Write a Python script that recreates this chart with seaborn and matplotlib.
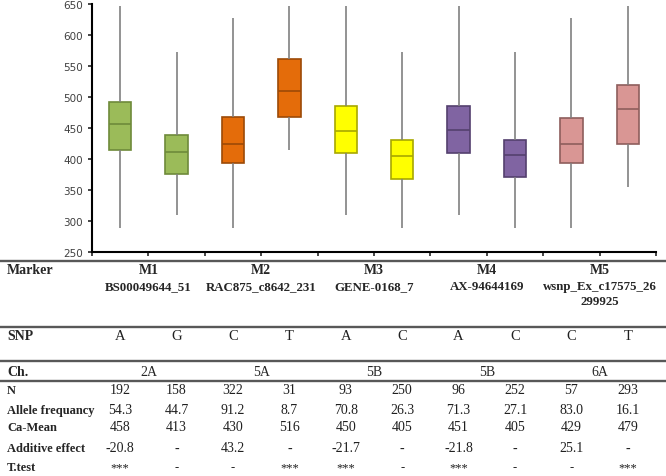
import numpy as np
import pandas as pd
import matplotlib
matplotlib.use('Agg')
import matplotlib.pyplot as plt
import matplotlib.transforms as mtransforms
from matplotlib.lines import Line2D
import seaborn as sns

# Box statistics (one box per allele)
boxes = ['M1_A', 'M1_G', 'M2_C', 'M2_T', 'M3_A', 'M3_C', 'M4_A', 'M4_C', 'M5_C', 'M5_T']
whisker_low = [288, 310, 288, 414, 310, 288, 310, 288, 288, 355]
q1 = [415, 376, 394, 467, 409, 367, 410, 371, 394, 424]
median = [457, 411, 424, 510, 445, 405, 446, 406, 424, 480]
q3 = [492, 439, 468, 562, 486, 430, 486, 430, 466, 520]
whisker_high = [647, 573, 627, 647, 647, 573, 647, 573, 627, 647]

# Table contents
markers = ['M1', 'M2', 'M3', 'M4', 'M5']
marker_ids = ['BS00049644_51', 'RAC875_c8642_231', 'GENE-0168_7', 'AX-94644169',
              'wsnp_Ex_c17575_26\n299925']
snp = ['A', 'G', 'C', 'T', 'A', 'C', 'A', 'C', 'C', 'T']
chrom = ['2A', '5A', '5B', '5B', '6A']
n_vals = ['192', '158', '322', '31', '93', '250', '96', '252', '57', '293']
allele_freq = ['54.3', '44.7', '91.2', '8.7', '70.8', '26.3', '71.3', '27.1', '83.0', '16.1']
ca_mean = ['458', '413', '430', '516', '450', '405', '451', '405', '429', '479']
additive = ['-20.8', '-', '43.2', '-', '-21.7', '-', '-21.8', '-', '25.1', '-']
ttest = ['***', '-', '-', '***', '***', '-', '***', '-', '-', '***']

fill_colors = ['#9BBB59', '#9BBB59', '#E46C0A', '#E46C0A', '#FFFF00', '#FFFF00',
               '#8064A2', '#8064A2', '#D99694', '#D99694']
edge_colors = ['#6E8A3A', '#6E8A3A', '#9C4A07', '#9C4A07', '#A8A800', '#A8A800',
               '#54406E', '#54406E', '#8E5E5C', '#8E5E5C']

# five numbers per box -> quartiles come out exactly with linear interpolation
rows = []
for i, b in enumerate(boxes):
    for v in [whisker_low[i], q1[i], median[i], q3[i], whisker_high[i]]:
        rows.append({'box': b, 'value': v})
df = pd.DataFrame(rows)

sns.set_style('ticks')
fig = plt.figure(figsize=(6.66, 4.77), dpi=100)
ax = fig.add_axes([92 / 666, 1 - 253 / 477, (656 - 92) / 666, (253 - 5) / 477])

sns.boxplot(data=df, x='box', y='value', hue='box', order=boxes, hue_order=boxes,
            palette=dict(zip(boxes, fill_colors)), whis=(0, 100), width=0.4,
            showcaps=False, legend=False, linewidth=1.2, ax=ax)

i = 0
for cont in ax.containers:
    for j in range(len(cont.boxes)):
        cont.boxes[j].set_edgecolor(edge_colors[i])
        cont.boxes[j].set_facecolor(fill_colors[i])
        cont.medians[j].set_color(edge_colors[i])
        for w in cont.whiskers[2 * j:2 * j + 2]:
            w.set_color('#808080')
        i += 1

ax.set_ylim(250, 650)
ax.set_yticks(np.arange(250, 651, 50))
ax.set_xlim(-0.5, 9.5)
ax.set_xticks(np.arange(-0.5, 10, 1))
ax.set_xticklabels([])
ax.set_xlabel('')
ax.set_ylabel('')
ax.tick_params(axis='y', labelsize=7.5, labelcolor='#404040', length=3, width=1.2)
ax.tick_params(axis='x', length=3, width=1.2)
for s in ['top', 'right']:
    ax.spines[s].set_visible(False)
for s in ['left', 'bottom']:
    ax.spines[s].set_linewidth(1.5)
    ax.spines[s].set_color('black')

# table under the chart: x in data coords, y in figure pixels
trans = mtransforms.blended_transform_factory(ax.transData, fig.transFigure)
serif = 'Liberation Serif'

def fy(px):
    return 1 - px / 477

for y in [262, 328, 362, 382]:
    fig.add_artist(Line2D([0, 1], [fy(y), fy(y)], transform=fig.transFigure,
                          color='#585858', lw=1.7))

row_labels = [('Marker', 271, 10), ('SNP', 337, 10), ('Ch.', 372, 10),
              ('N', 391, 9), ('Allele frequancy', 411, 9), ('Ca-Mean', 428, 9),
              ('Additive effect', 449, 9), ('T.test', 468, 9)]
for lab, y, fs in row_labels:
    fig.text(7 / 666, fy(y), lab, family=serif, fontweight='bold', fontsize=fs,
             va='center', ha='left')

for k in range(5):
    xc = 2 * k + 0.5
    ax.text(xc, fy(271), markers[k], transform=trans, family=serif, fontweight='bold',
            fontsize=10, ha='center', va='center')
    for li, part in enumerate(marker_ids[k].split('\n')):
        ax.text(xc, fy(287 + 15 * li), part, transform=trans, family=serif,
                fontweight='bold', fontsize=9.3, ha='center', va='center')
    ax.text(xc, fy(372), chrom[k], transform=trans, family=serif, fontsize=10,
            ha='center', va='center')

table_rows = [(snp, 337, 10.5), (n_vals, 391, 10), (allele_freq, 411, 10),
              (ca_mean, 428, 10), (additive, 449, 10), (ttest, 468, 9)]
for vals, y, fs in table_rows:
    for k, v in enumerate(vals):
        ax.text(k, fy(y), v, transform=trans, family=serif, fontsize=fs,
                ha='center', va='center', color='#202020')

fig.savefig('out.png', dpi=100)
